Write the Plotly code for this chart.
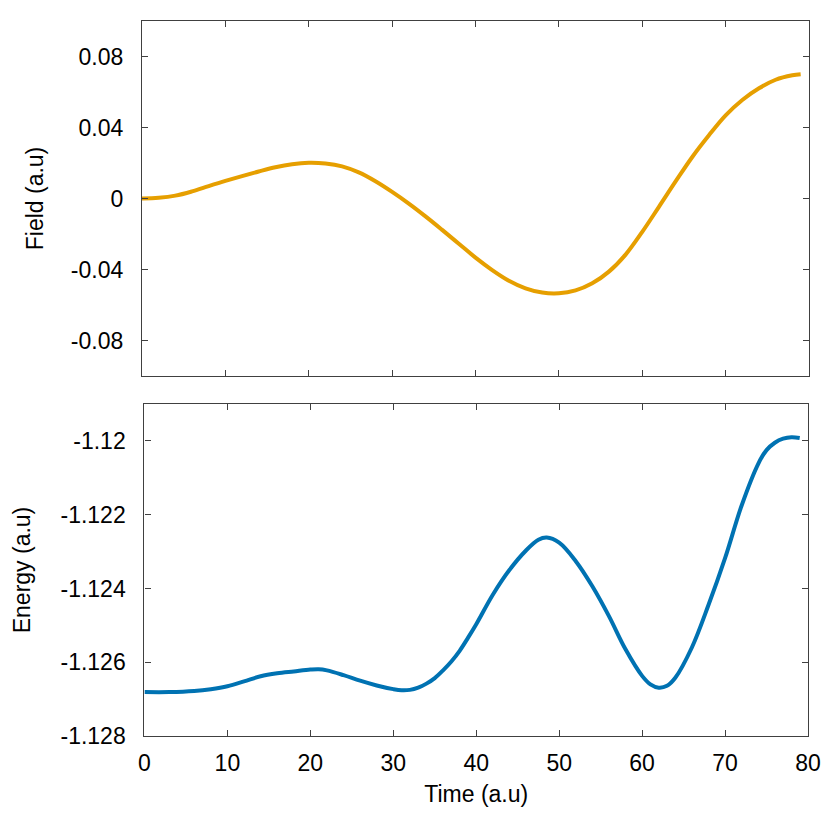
import plotly.graph_objects as go

# time samples (a.u)
t_field = [0, 2, 4, 6, 8, 10, 12, 14, 16, 18, 20, 22, 24, 26, 28, 30, 32, 34,
           36, 38, 40, 42, 44, 46, 48, 50, 52, 54, 56, 58, 60, 62, 64,
           66, 68, 70, 72, 74, 76, 78, 79]
field = [0, 0.0004, 0.0016, 0.0040, 0.0070, 0.0099, 0.0126, 0.0152, 0.0176,
         0.0193, 0.0201, 0.0197, 0.0181, 0.0147, 0.0097, 0.0037, -0.0029,
         -0.0101, -0.0177, -0.0255, -0.0333, -0.0403, -0.0463, -0.0506, -0.0530,
         -0.0534, -0.0518, -0.0478, -0.0412, -0.0316, -0.0188, -0.0047, 0.0096,
         0.0234, 0.0356, 0.0468, 0.0555, 0.0621, 0.0669, 0.0694, 0.0700]

t_energy = [0, 3, 6, 8, 10, 12, 14, 16, 18, 20, 21, 22, 24, 26, 28, 30, 31, 32,
            33, 34, 35, 36, 37, 38, 39, 40, 42, 44, 46, 47.5, 48.5, 50, 52, 54,
            56, 58, 60, 61, 62, 63, 64, 66, 68, 70, 72, 74, 75, 76, 77, 78, 79]
energy = [-1.12681, -1.12681, -1.12678, -1.12673, -1.12665, -1.12652, -1.12638,
          -1.12630, -1.12625, -1.12620, -1.12619, -1.12622, -1.12635, -1.12650,
          -1.12663, -1.12673, -1.12676, -1.12675, -1.12669, -1.12658, -1.12643,
          -1.12622, -1.12598, -1.12569, -1.12534, -1.12497, -1.12417, -1.12350,
          -1.12297, -1.12268, -1.12262, -1.12276, -1.12326, -1.12394, -1.12475,
          -1.12565, -1.12637, -1.12660, -1.12669, -1.12664, -1.12642, -1.12560,
          -1.12445, -1.12318, -1.12175, -1.12062, -1.12025, -1.12005, -1.11994,
          -1.11990, -1.11992]

x_ticks = [0, 10, 20, 30, 40, 50, 60, 70, 80]
field_ticks = [-0.08, -0.04, 0, 0.04, 0.08]
field_labels = ["-0.08", "-0.04", "0", "0.04", "0.08"]
energy_ticks = [-1.128, -1.126, -1.124, -1.122, -1.12]
energy_labels = ["-1.128", "-1.126", "-1.124", "-1.122", "-1.12"]

font = dict(family="Liberation Sans, Arial, sans-serif", size=23, color="black")
frame = "#404040"

fig = go.Figure()
fig.add_trace(go.Scatter(x=t_field, y=field, mode="lines",
                         line=dict(color="#E69F00", width=4, shape="spline"),
                         xaxis="x", yaxis="y"))
fig.add_trace(go.Scatter(x=t_energy, y=energy, mode="lines",
                         line=dict(color="#0072B2", width=4, shape="spline"),
                         xaxis="x2", yaxis="y2"))

axis_common = dict(showline=True, linecolor=frame, linewidth=1.3, mirror="allticks",
                   ticks="inside", ticklen=6, tickcolor=frame, tickwidth=1.1,
                   showgrid=False, zeroline=False, tickfont=font, automargin=False)

# page body adds 8px around the figure, so the figure is 16px smaller
fig.update_layout(
    width=815, height=809,
    margin=dict(l=134, r=14, t=13, b=81),
    plot_bgcolor="white", paper_bgcolor="white",
    showlegend=False,
    font=font,
    xaxis=dict(domain=[0, 1], range=[0, 80], tickvals=x_ticks, showticklabels=False,
               anchor="y", **axis_common),
    yaxis=dict(domain=[0.5035, 1], range=[-0.1, 0.1], tickvals=field_ticks,
               ticktext=field_labels, anchor="x", ticklabelstandoff=13,
               title=dict(text="Field (a.u)", font=font, standoff=20), **axis_common),
    xaxis2=dict(domain=[0.0037, 0.9985], range=[0, 80], tickvals=x_ticks,
                anchor="y2", ticklabelstandoff=6,
                title=dict(text="Time (a.u)", font=font, standoff=11), **axis_common),
    yaxis2=dict(domain=[0, 0.4643], range=[-1.128, -1.119], tickvals=energy_ticks,
                ticktext=energy_labels, anchor="x2", ticklabelstandoff=13,
                title=dict(text="Energy (a.u)", font=font, standoff=23), **axis_common),
)

fig.write_html("out.html")
